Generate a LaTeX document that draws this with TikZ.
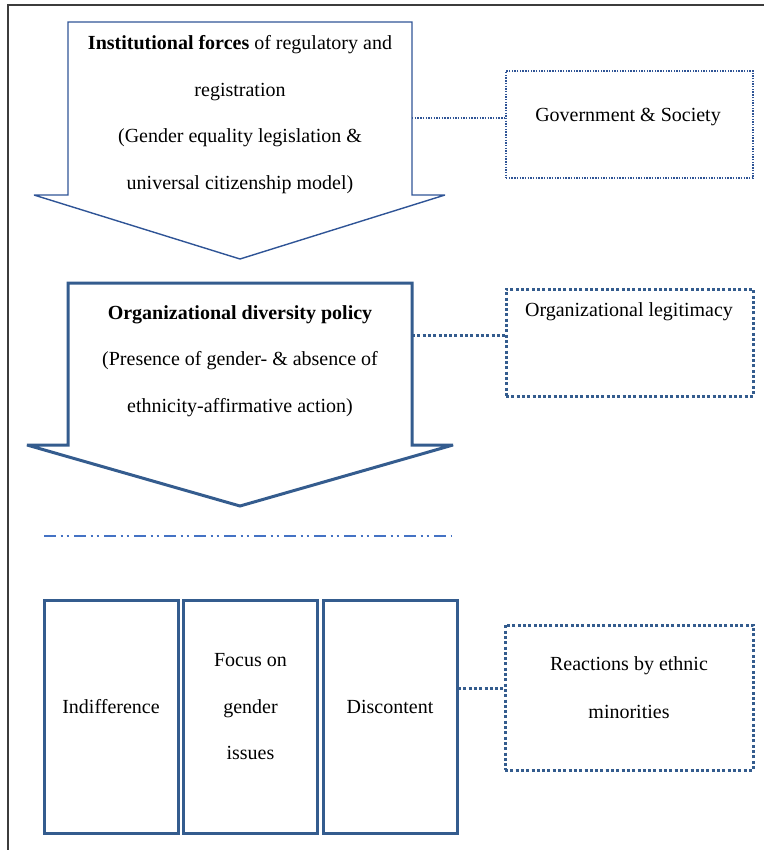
\documentclass[tikz,border=0pt]{standalone}
\usepackage{fontspec}
\setmainfont{Liberation Serif}
\definecolor{blueA}{RGB}{47,84,150}
\definecolor{blueB}{RGB}{52,92,142}
\definecolor{blueC}{RGB}{68,114,196}
\definecolor{frameC}{RGB}{60,60,60}
\begin{document}
\begin{tikzpicture}[x=1pt,y=-1pt,
  every node/.style={font=\fontsize{20}{46.5}\selectfont, inner sep=0pt},
  framel/.style={draw=frameC, line width=1.5pt},
  thinarrow/.style={draw=blueA, line width=1.4pt, line join=miter, miter limit=1.5},
  thickarrow/.style={draw=blueB, line width=3pt, line join=miter, miter limit=1.5},
  finedot/.style={draw=blueA, line width=1.4pt, dash pattern=on 1.4pt off 1.3pt},
  bigdot/.style={draw=blueB, line width=3pt, dash pattern=on 3pt off 2.3pt},
  solidbox/.style={draw=blueB, line width=3pt, minimum width=134pt, minimum height=233pt},
  rightbox/.style={minimum width=247pt, minimum height=107pt},
  dashdotdot/.style={draw=blueC, line width=2.6pt, dash pattern=on 11.7pt off 5pt on 1.9pt off 4.1pt on 1.9pt off 5.4pt}
]
\useasboundingbox (0,0) rectangle (764,850);
% frame
\coordinate (fbl) at (8,850);
\coordinate (ftl) at (8,5);
\coordinate (ftr) at (764,5);
\draw[framel] (fbl) -- (ftl) -- (ftr);

% arrow 1
\draw[thinarrow] (68,22) -- (412,22) -- (412,195) -- (445,195) -- (240,259) -- (34,195) -- (68,195) -- cycle;
\coordinate (a1r) at (412,118);
% arrow 2
\draw[thickarrow] (68,283) -- (412,283) -- (412,445) -- (453,445) -- (240,506) -- (27,445) -- (68,445) -- cycle;
\coordinate (a2r) at (412,335);

\node[align=center] (t1) at (240,114.5) {\textbf{Institutional forces} of regulatory and\\registration\\(Gender equality legislation \&\\universal citizenship model)};
\node[align=center] (t2) at (240,361) {\textbf{Organizational diversity policy}\\(Presence of gender- \& absence of\\ethnicity-affirmative action)};

% dash-dot line
\coordinate (dl) at (44,536);
\coordinate (dr) at (452,536);
\draw[dashdotdot] (dl) -- (dr);

% right boxes
\node[rightbox, finedot] (gov) at (629.5,124.5) {};
\node[rightbox, bigdot] (leg) at (629.5,342.5) {};
\node[bigdot, minimum width=248pt, minimum height=145pt] (rea) at (629,697.5) {};
\node (govt) at (628,117) {Government \& Society};
\node (legt) at (629,312) {Organizational legitimacy};
\node[align=center, font=\fontsize{20}{48}\selectfont] (reat) at (629,688) {Reactions by ethnic\\minorities};

% bottom boxes
\node[solidbox] (ind) at (111,716.5) {};
\node[solidbox] (foc) at (250.5,716.5) {};
\node[solidbox] (dis) at (390,716.5) {};
\node (indt) at (111,707) {Indifference};
\node[align=center] (foct) at (250.5,707) {Focus on\\gender\\issues};
\node (dist) at (390,707) {Discontent};

% connectors
\draw[finedot] (a1r) -- (a1r -| gov.west);
\draw[bigdot] (a2r) -- (a2r -| leg.west);
\coordinate (c3) at (458,688);
\draw[bigdot] (c3) -- (c3 -| rea.west);
\end{tikzpicture}
\end{document}
